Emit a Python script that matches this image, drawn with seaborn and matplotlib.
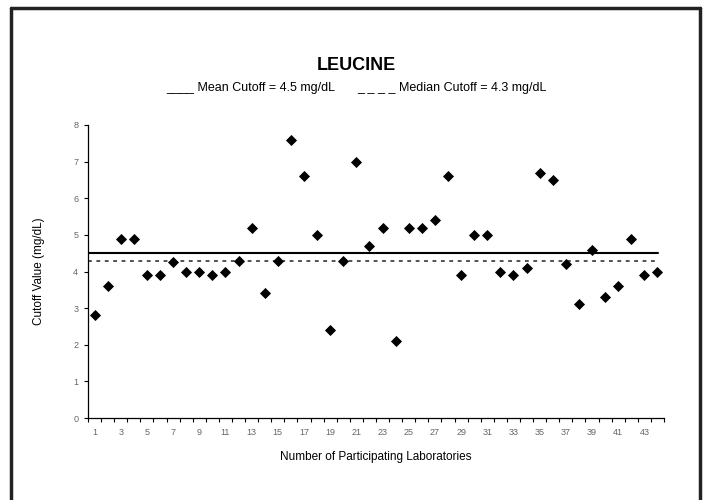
import matplotlib
matplotlib.use("Agg")
import matplotlib.pyplot as plt
from matplotlib.lines import Line2D
import seaborn as sns
import pandas as pd
import numpy as np

labs = list(range(1, 45))
values = [2.8, 3.6, 4.9, 4.9, 3.9, 3.9, 4.25, 4.0, 4.0, 3.9, 4.0, 4.3, 5.2, 3.4, 4.3,
          7.6, 6.6, 5.0, 2.4, 4.3, 7.0, 4.7, 5.2, 2.1, 5.2, 5.2, 5.4, 6.6, 3.9, 5.0,
          5.0, 4.0, 3.9, 4.1, 6.7, 6.5, 4.2, 3.1, 4.6, 3.3, 3.6, 4.9, 3.9, 4.0]
mean_cut = 4.5
median_cut = 4.3
yticks = list(range(0, 9))

sns.set_theme(style="white")
plt.rcParams['font.family'] = ['Liberation Sans', 'DejaVu Sans']
plt.rcParams['text.color'] = 'black'
plt.rcParams['axes.labelcolor'] = 'black'

df = pd.DataFrame({"lab": labs, "val": values})
df["pos"] = np.arange(len(labs))

W, H = 705, 500
fig = plt.figure(figsize=(7.05, 5.0), dpi=100)
ax = fig.add_axes([88 / W, 1 - 418 / H, (664 - 88) / W, (418 - 125) / H])

sns.scatterplot(data=df, x="pos", y="val", marker="D", color="black", s=32,
                edgecolor="black", linewidth=0, ax=ax, zorder=3, legend=False)

ax.axhline(mean_cut, xmin=0, xmax=0.99, color="black", lw=1.5, zorder=2)
ax.axhline(median_cut, xmin=0, xmax=0.99, color="#222222", lw=1.1,
           linestyle=(0, (2.5, 3)), zorder=2)

ax.set_xlim(-0.5, len(labs) - 0.5)
ax.set_ylim(0, 8)
ax.set_yticks(yticks)
ax.set_yticklabels([str(t) for t in yticks])
ax.set_xticks(np.arange(-0.5, len(labs), 1.0))
ax.set_xticklabels([])
ax.set_xticks(df["pos"][::2], minor=True)
ax.set_xticklabels([str(l) for l in labs[::2]], minor=True)
ax.tick_params(axis="x", which="major", direction="out", length=3, width=0.8,
               color="black", bottom=True)
ax.tick_params(axis="x", which="minor", length=0, pad=7, labelsize=6.5,
               labelcolor="#666666")
ax.tick_params(axis="y", direction="out", length=3, width=0.8, color="black",
               left=True, labelsize=6.5, labelcolor="#666666", pad=4)

for s in ["top", "right"]:
    ax.spines[s].set_visible(False)
for s in ["left", "bottom"]:
    ax.spines[s].set_color("black")
    ax.spines[s].set_linewidth(0.9)

ax.set_xlabel("Number of Participating Laboratories", fontsize=8.5, labelpad=10)
ax.set_ylabel("Cutoff Value (mg/dL)", fontsize=8.5, labelpad=20)
ax.grid(False)

fig.text(356 / W, 1 - 65 / H, "LEUCINE", ha="center", va="center",
         fontsize=13, fontweight="bold")
fig.text(166 / W, 1 - 88 / H, "____ Mean Cutoff = 4.5 mg/dL",
         ha="left", va="center", fontsize=9)
fig.text(357 / W, 1 - 88 / H, "_ _ _ _ Median Cutoff = 4.3 mg/dL",
         ha="left", va="center", fontsize=9)

kw = dict(color="#222222", lw=2.5, transform=fig.transFigure)
fig.add_artist(Line2D([11 / W, 11 / W], [0, 1 - 8 / H], **kw))
fig.add_artist(Line2D([700 / W, 700 / W], [0, 1 - 8 / H], **kw))
fig.add_artist(Line2D([11 / W, 700 / W], [1 - 8 / H, 1 - 8 / H], **kw))

fig.savefig("out.png", dpi=100)
